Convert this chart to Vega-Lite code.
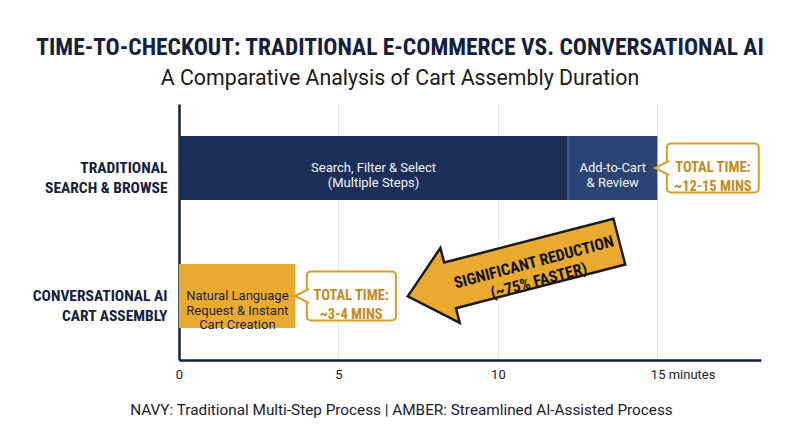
{
  "$schema": "https://vega.github.io/schema/vega-lite/v6.json",
  "width": 582,
  "height": 256,
  "autosize": "none",
  "padding": {"left": 179, "top": 104, "right": 39, "bottom": 87},
  "background": "white",
  "config": {"view": {"stroke": null}, "font": "Roboto"},
  "title": {
    "text": "TIME-TO-CHECKOUT: TRADITIONAL E-COMMERCE VS. CONVERSATIONAL AI",
    "subtitle": "A Comparative Analysis of Cart Assembly Duration",
    "anchor": "middle",
    "frame": "group",
    "dx": -70,
    "font": "Roboto Condensed, Liberation Sans Narrow, DejaVu Sans Condensed, sans-serif",
    "fontSize": 23.5,
    "fontWeight": "bold",
    "color": "#14213d",
    "subtitleFont": "Roboto",
    "subtitleFontSize": 21.3,
    "subtitleColor": "#1a1a1a",
    "subtitlePadding": 8,
    "offset": 15
  },
  "layer": [
    {
      "layer": [
        {
          "data": {"values": [
            {"row": "Traditional Search & Browse", "start": 0, "end": 12.2, "mid": 6.1, "kind": "trad-main", "segment": "Search, Filter & Select\n(Multiple Steps)"},
            {"row": "Traditional Search & Browse", "start": 12.2, "end": 15, "mid": 13.6, "kind": "trad-review", "segment": "Add-to-Cart\n& Review"},
            {"row": "Conversational AI Cart Assembly", "start": 0, "end": 3.65, "mid": 1.83, "kind": "ai", "segment": "Natural Language\nRequest & Instant\nCart Creation"}
          ]},
          "layer": [
            {
              "mark": {"type": "bar"},
              "encoding": {
                "x": {
                  "field": "start", "type": "quantitative",
                  "scale": {"domain": [0, 18.25], "nice": false, "zero": true},
                  "axis": {
                    "values": [0, 5, 10, 15],
                    "labelExpr": "datum.value == 15 ? '15 minutes' : datum.label",
                    "labelAlign": {"condition": {"test": "datum.value == 15", "value": "left"}, "value": "center"},
                    "labelOffset": {"condition": {"test": "datum.value == 15", "value": -7}, "value": 0},
                    "labelFont": "Roboto",
                    "labelFontSize": 13,
                    "labelColor": "#222222",
                    "labelPadding": 8,
                    "ticks": false,
                    "grid": true,
                    "gridColor": "#e4e4e4",
                    "gridWidth": 1,
                    "domain": true,
                    "domainColor": "#14213d",
                    "domainWidth": 2.5,
                    "title": "NAVY: Traditional Multi-Step Process | AMBER: Streamlined AI-Assisted Process",
                    "titleFont": "Roboto",
                    "titleFontWeight": "normal",
                    "titleFontSize": 15.3,
                    "titleColor": "#1a2030",
                    "titleX": 222,
                    "titleY": 49,
                    "titleAlign": "center",
                    "titleBaseline": "middle"
                  }
                },
                "x2": {"field": "end"},
                "color": {"field": "kind", "type": "nominal", "legend": null,
                  "scale": {"domain": ["trad-main", "trad-review", "ai"], "range": ["#1c2f58", "#2c4473", "#eaa92f"]}}
              }
            },
            {
              "transform": [{"filter": "datum.kind == 'trad-review'"}],
              "mark": {"type": "tick", "orient": "vertical", "thickness": 2, "size": 64, "color": "#52678f"},
              "encoding": {
                "x": {"field": "start", "type": "quantitative"}
              }
            },
            {
              "mark": {"type": "text", "lineBreak": "\n", "fontSize": 13, "lineHeight": 14.5, "align": "center", "baseline": "middle", "font": "Roboto"},
              "encoding": {
                "x": {"field": "mid", "type": "quantitative"},
                "text": {"field": "segment", "type": "nominal"},
                "color": {"condition": {"test": "datum.kind == 'ai'", "value": "#1b2340"}, "value": "#f2f4f8"}
              }
            }
          ]
        },
        {
          "data": {"values": [
            {"row": "Traditional Search & Browse", "x0": 15.3, "x1": 18.18, "mid": 16.74, "label": "TOTAL TIME:\n~12-15 MINS"},
            {"row": "Conversational AI Cart Assembly", "x0": 4.01, "x1": 6.8, "mid": 5.4, "label": "TOTAL TIME:\n~3-4 MINS"}
          ]},
          "layer": [
            {
              "mark": {"type": "bar", "height": {"band": 0.766}, "fill": "white", "stroke": "#d99d24", "strokeWidth": 2, "cornerRadius": 4},
              "encoding": {
                "x": {"field": "x0", "type": "quantitative"},
                "x2": {"field": "x1"}
              }
            },
            {
              "mark": {"type": "point", "shape": "M 0.17 -0.6 L -1 0 L 0.17 0.6", "size": 576, "filled": true, "fill": "white", "stroke": "#d99d24", "strokeWidth": 2, "opacity": 1, "strokeJoin": "miter"},
              "encoding": {
                "x": {"field": "x0", "type": "quantitative"}
              }
            },
            {
              "mark": {"type": "text", "lineBreak": "\n", "font": "Roboto Condensed, Liberation Sans Narrow, DejaVu Sans Condensed, sans-serif", "fontWeight": "bold", "fontSize": 14.5, "lineHeight": 19, "align": "center", "baseline": "middle", "color": "#c48b1d"},
              "encoding": {
                "x": {"field": "mid", "type": "quantitative"},
                "text": {"field": "label", "type": "nominal"}
              }
            }
          ]
        }
      ],
      "encoding": {
        "y": {
          "field": "row", "type": "nominal", "title": null,
          "scale": {"domain": ["Traditional Search & Browse", "Conversational AI Cart Assembly"], "paddingInner": 0.5, "paddingOuter": 0.25},
          "axis": {
            "labelExpr": "datum.value == 'Traditional Search & Browse' ? ['TRADITIONAL', 'SEARCH & BROWSE'] : ['CONVERSATIONAL AI', 'CART ASSEMBLY']",
            "labelFont": "Roboto Condensed, Liberation Sans Narrow, DejaVu Sans Condensed, sans-serif",
            "labelFontWeight": "bold",
            "labelFontSize": 15.5,
            "labelLineHeight": 20,
            "labelColor": "#14213d",
            "labelPadding": 12,
            "ticks": false,
            "domain": true,
            "domainColor": "#14213d",
            "domainWidth": 2.5,
            "grid": false,
            "labelLimit": 200
          }
        }
      }
    },
    {
      "data": {"values": [
        {"x": 10.49, "y": 1.289, "kind": "arrow", "label": ""},
        {"x": 11.13, "y": 1.238, "kind": "text", "label": "SIGNIFICANT REDUCTION\n(~75% FASTER)"}
      ]},
      "encoding": {
        "x": {"field": "x", "type": "quantitative"},
        "y": {"field": "y", "type": "quantitative", "axis": null, "scale": {"domain": [0, 2], "reverse": true, "nice": false, "zero": false}}
      },
      "layer": [
        {
          "transform": [{"filter": "datum.kind == 'arrow'"}],
          "mark": {"type": "point", "shape": "M -1 0 L -0.6 -0.354 L -0.6 -0.216 L 1 -0.216 L 1 0.216 L -0.6 0.216 L -0.6 0.354 Z", "size": 47742, "angle": 345.5, "filled": true, "fill": "#eaa92f", "stroke": "#1a1a1a", "strokeWidth": 2.5, "opacity": 1}
        },
        {
          "transform": [{"filter": "datum.kind == 'text'"}],
          "mark": {"type": "text", "lineBreak": "\n", "angle": 345, "font": "Roboto Condensed, Liberation Sans Narrow, DejaVu Sans Condensed, sans-serif", "fontWeight": "bold", "fontSize": 16, "lineHeight": 19, "align": "center", "baseline": "middle", "color": "#111111"},
          "encoding": {"text": {"field": "label", "type": "nominal"}}
        }
      ]
    }
  ],
  "resolve": {"scale": {"y": "independent"}, "axis": {"y": "independent"}}
}
